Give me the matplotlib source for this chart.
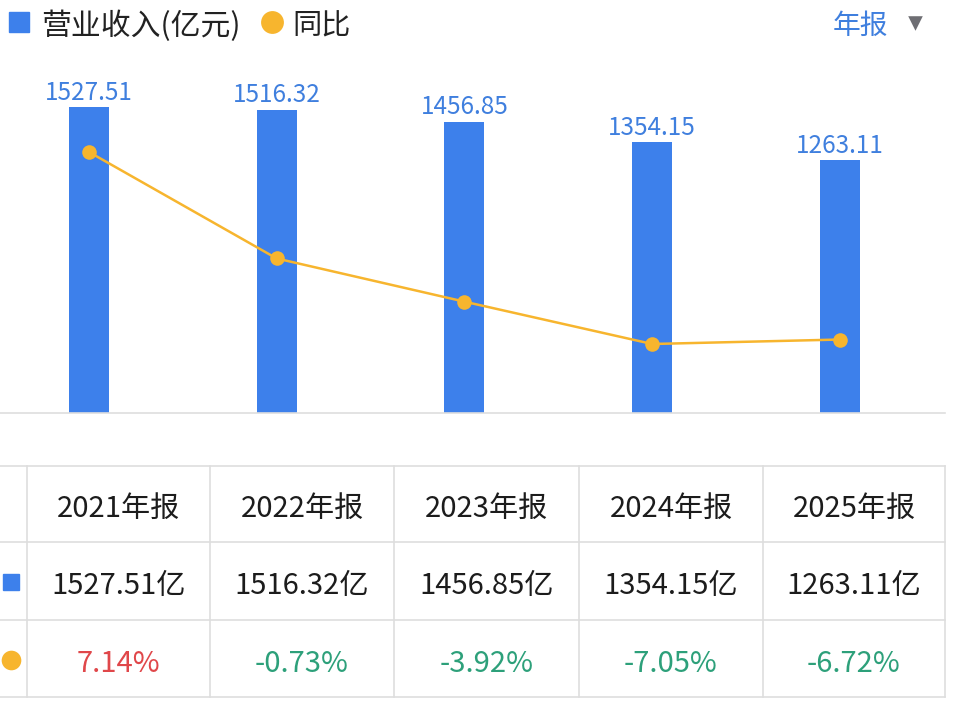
import matplotlib
matplotlib.use("Agg")
import matplotlib.pyplot as plt
import numpy as np

plt.rcParams['font.family'] = ['Noto Sans CJK SC', 'DejaVu Sans']

# data
periods = ['2021年报', '2022年报', '2023年报', '2024年报', '2025年报']
revenue = [1527.51, 1516.32, 1456.85, 1354.15, 1263.11]   # 亿元
yoy = [7.14, -0.73, -3.92, -7.05, -6.72]                   # %

BLUE = '#3D80EB'
LABEL_BLUE = '#3F7FDE'
ORANGE = '#F7B52E'
GRID = '#DEDEDE'
RED = '#E0474A'
GREEN = '#2DA07A'
DARK = '#1C1C1C'

W, H = 954, 707
fig = plt.figure(figsize=(W / 100, H / 100), dpi=100)

# ---- chart area (pixel layout -> figure fractions)
ch_top, ch_bot, ch_right = 60, 413, 945
ax = fig.add_axes([0, 1 - ch_bot / H, ch_right / W, (ch_bot - ch_top) / H])
x = np.arange(len(periods))
ax.bar(x, revenue, width=0.213, color=BLUE, zorder=2)
for xi, v in zip(x, revenue):
    ax.annotate(f'{v:.2f}', (xi, v), xytext=(0, 1), textcoords='offset points',
                ha='center', va='bottom', fontsize=17.5, color=LABEL_BLUE,
                fontweight='medium')
ax.set_xlim(-0.474, 4.56)
ax.set_ylim(0, 1765)
for s in ['top', 'right', 'left']:
    ax.spines[s].set_visible(False)
ax.spines['bottom'].set_color(GRID)
ax.spines['bottom'].set_linewidth(1.2)
ax.set_xticks([])
ax.set_yticks([])

ax2 = ax.twinx()
ax2.plot(x, yoy, color=ORANGE, lw=1.8, marker='o', markersize=10.5,
         markerfacecolor=ORANGE, markeredgewidth=0, zorder=3)
ax2.set_ylim(-12.15, 13.94)
ax2.axis('off')

# ---- overlay in pixel coords for legend and table
ov = fig.add_axes([0, 0, 1, 1], zorder=5)
ov.set_xlim(0, W)
ov.set_ylim(H, 0)
ov.axis('off')

# legend / header
ov.add_patch(plt.Rectangle((9, 12), 20, 20, color=BLUE))
ov.text(41, 26, '营业收入(亿元)', fontsize=21.5, color='#222222', va='center', ha='left')
ov.scatter([272], [22], s=270, color=ORANGE, zorder=6, linewidths=0)
ov.text(292, 26, '同比', fontsize=21, color='#222222', va='center', ha='left')
ov.text(860, 26, '年报', fontsize=20, color=LABEL_BLUE, va='center', ha='center')
ov.scatter([915], [23], s=110, marker='v', color='#6E6E73', linewidths=0)

# table grid
row_lines = [466, 542, 620, 697]
col_lines = [27, 210, 394, 579, 763, 945]
for y in row_lines:
    ov.plot([0, 945], [y, y], color=GRID, lw=1.2)
for cx in col_lines:
    ov.plot([cx, cx], [row_lines[0], row_lines[-1]], color=GRID, lw=1.2)

row_y = [(row_lines[i] + row_lines[i + 1]) / 2 for i in range(3)]
for i, p in enumerate(periods):
    cx = (col_lines[i] + col_lines[i + 1]) / 2
    ov.text(cx, row_y[0] + 5, p, fontsize=21, color=DARK, ha='center', va='center',
            fontweight='medium')
    ov.text(cx, row_y[1] + 5, f'{revenue[i]:.2f}亿', fontsize=21, color=DARK,
            ha='center', va='center', fontweight='medium')
    ov.text(cx, row_y[2] + 5, f'{yoy[i]:.2f}%', fontsize=21, fontweight='medium',
            color=RED if yoy[i] > 0 else GREEN, ha='center', va='center')

ov.add_patch(plt.Rectangle((3, row_y[1] - 7), 16, 16, color=BLUE))
ov.scatter([11], [row_y[2] + 1], s=200, color=ORANGE, linewidths=0)

fig.savefig('out.png', dpi=100, facecolor='white')
